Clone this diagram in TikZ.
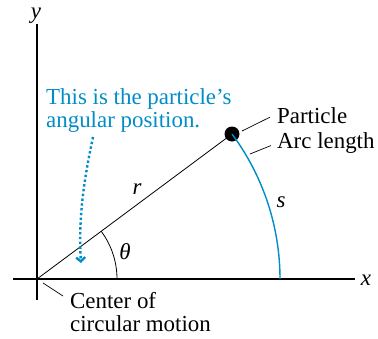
\documentclass[tikz,border=0pt]{standalone}
\usepackage{fontspec}
\setmainfont{Liberation Serif}
\usetikzlibrary{arrows.meta,calc}
\definecolor{figblue}{RGB}{0,140,200}

\begin{document}
\begin{tikzpicture}[x=1bp, y=-1bp, >=latex,
    lbl/.style={inner sep=0pt, font=\fontsize{23}{23.5}\selectfont},
    leader/.style={line width=0.7bp}]

\useasboundingbox (0,0) rectangle (378,339);

% axes
\coordinate (O) at (37,279);
\draw[line width=1.3bp] (13,279) -- (355,279);
\draw[line width=1.3bp] (37,24) -- (37,300);
\node[lbl, anchor=base] (xlab) at (366,285) {\textit{x}};
\node[lbl, anchor=base] (ylab) at (36,18) {\textit{y}};

% radius and particle
\node[circle, fill=black, inner sep=0pt, minimum size=15bp] (P) at (232,134) {};
\draw[line width=0.8bp] (O) -- (P.center);
\node[lbl] (rlab) at (137,189) {\textit{r}};

% arc length
\draw[figblue, line width=1.4bp] (O) ++(243,0) arc[start angle=0, end angle=-36.6, radius=243];
\node[lbl] (slab) at (281,202) {\textit{s}};

% angle
\draw[line width=0.8bp] (O) ++(80,0) arc[start angle=0, end angle=-36.6, radius=80];
\node[lbl] (thlab) at (125,252) {\textit{θ}};

% labels with leaders
\node[lbl, anchor=base west] (plab) at (277,123) {Particle};
\node[lbl, anchor=base west] (alab) at (277,148) {Arc length};
\coordinate (pl) at (242,131);
\coordinate (al) at (250,154);
\draw[leader] (pl) -- ($(plab.west)+(-7,2)$);
\draw[leader] (al) -- ($(alab.west)+(-6,3)$);

\node[lbl, anchor=north west, align=left] (clab) at (70,292) {Center of\\circular motion};
\coordinate (cl) at (43,283);
\draw[leader] (cl) -- ($(clab.north west)+(-7,4)$);

% angular position note
\node[lbl, anchor=north west, align=left, text=figblue] (note) at (46,88)
    {This is the particle’s\\angular position.};
\coordinate (tip) at (81,263);
\draw[figblue, line width=2.4bp, dash pattern=on 2.4bp off 2.4bp, -{Straight Barb[length=4bp, width=9bp]}]
    (93,137) .. controls (85,175) and (78,215) .. (tip);

\end{tikzpicture}
\end{document}
